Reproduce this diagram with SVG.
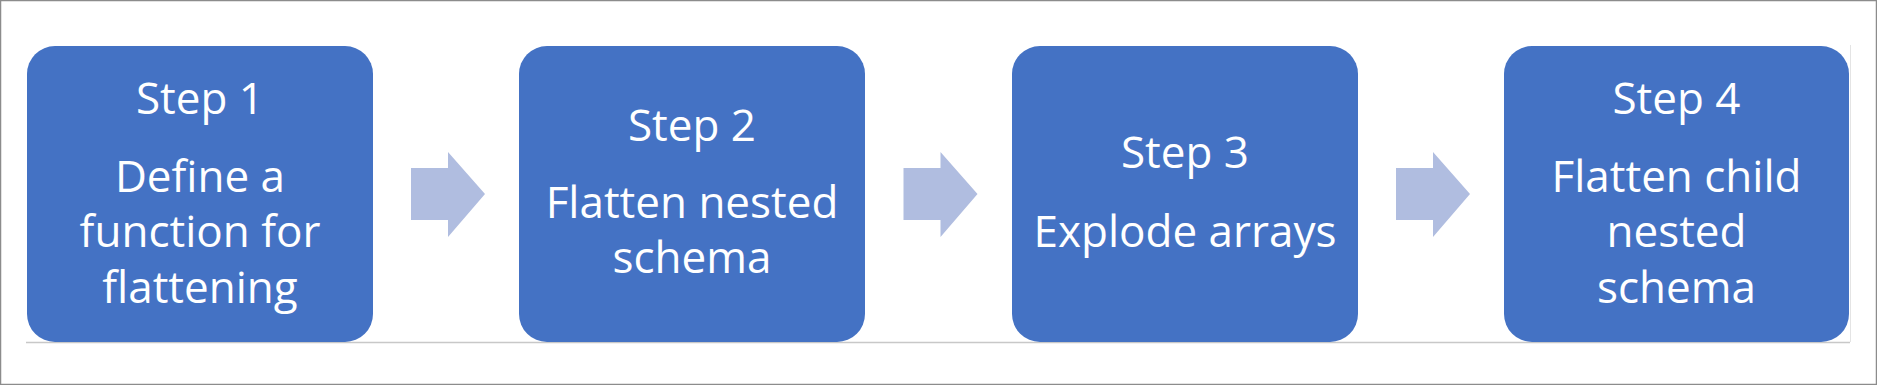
<svg xmlns="http://www.w3.org/2000/svg" width="1877" height="385" viewBox="0 0 1877 385">
<style>
.box{fill:#4472c4}
.arr{fill:#b0bde0}
.t{font-family:"Open Sans","Liberation Sans",sans-serif;font-size:44px;fill:#ffffff;text-anchor:middle}
</style>
<rect x="0" y="0" width="1877" height="385" fill="#ffffff"/>
<rect x="0.5" y="0.5" width="1876" height="384" fill="none" stroke="#8c8c8c" stroke-width="1.5"/>
<line x1="26" y1="342.5" x2="1850" y2="342.5" stroke="#c8c8c8" stroke-width="1.5"/>
<line x1="1850.5" y1="45" x2="1850.5" y2="342" stroke="#e4e4e4" stroke-width="1"/>
<g id="node1">
<rect class="box" x="27" y="46" width="346" height="296" rx="28" ry="28"/>
<text class="t" x="200" y="114">Step 1</text>
<text class="t" x="200" y="192">Define a</text>
<text class="t" x="200" y="247">function for</text>
<text class="t" x="200" y="303">flattening</text>
</g>
<g id="node2">
<rect class="box" x="519" y="46" width="346" height="296" rx="28" ry="28"/>
<text class="t" x="692" y="141">Step 2</text>
<text class="t" x="692" y="218">Flatten nested</text>
<text class="t" x="692" y="273">schema</text>
</g>
<g id="node3">
<rect class="box" x="1012" y="46" width="346" height="296" rx="28" ry="28"/>
<text class="t" x="1185" y="168">Step 3</text>
<text class="t" x="1185" y="247">Explode arrays</text>
</g>
<g id="node4">
<rect class="box" x="1504" y="46" width="345" height="296" rx="28" ry="28"/>
<text class="t" x="1676.5" y="114">Step 4</text>
<text class="t" x="1676.5" y="192">Flatten child</text>
<text class="t" x="1676.5" y="247">nested</text>
<text class="t" x="1676.5" y="303">schema</text>
</g>
<g id="connectors">
<polygon class="arr" points="411,168 448,168 448,152 485,194 448,237 448,220 411,220"/>
<polygon class="arr" points="903.5,168 940.5,168 940.5,152 977.5,194 940.5,237 940.5,220 903.5,220"/>
<polygon class="arr" points="1396,168 1433,168 1433,152 1470,194 1433,237 1433,220 1396,220"/>
</g>
</svg>
